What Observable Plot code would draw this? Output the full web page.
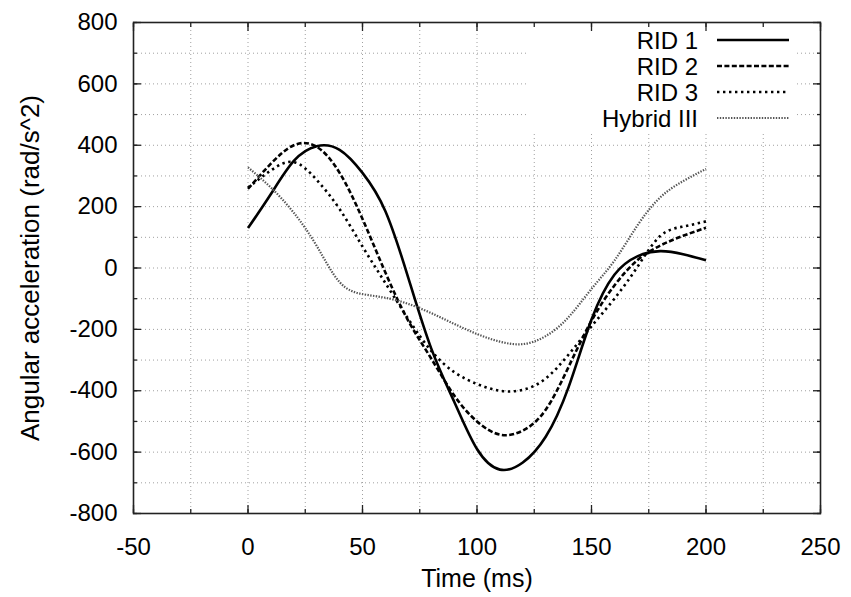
<!DOCTYPE html>
<html>
<head>
<meta charset="utf-8">
<script src="https://cdn.jsdelivr.net/npm/d3@7"></script>
<script src="https://cdn.jsdelivr.net/npm/@observablehq/plot@0.6"></script>
<style>
  body { margin: 0; background: #fff; }
  #chart { width: 851px; height: 597px; }
</style>
</head>
<body>
<div id="chart"></div>
<script>
// ---- data ----
const seriesNames = ["RID 1", "RID 2", "RID 3", "Hybrid III"];
const time = [0, 10, 20, 30, 40, 50, 60, 70, 80, 90, 100, 110, 120, 130, 140, 150, 160, 170, 180, 190, 200];
const rid1 = [130, 241, 349, 397, 385, 310, 185, -32, -262, -435, -590, -657, -634, -550, -388, -168, -22, 38, 55, 45, 25];
const rid2 = [258, 340, 400, 395, 310, 160, -15, -172, -295, -415, -500, -543, -530, -462, -322, -172, -57, 25, 73, 105, 131];
const rid3 = [262, 318, 345, 287, 192, 70, -49, -166, -270, -339, -378, -400, -397, -360, -282, -190, -100, 3, 104, 135, 152];
const hybrid3 = [328, 262, 180, 72, -46, -85, -97, -117, -147, -182, -215, -240, -248, -222, -160, -68, 24, 138, 230, 283, 323];
const xTickLabels = [-50, 0, 50, 100, 150, 200, 250];
const yTickLabels = [-800, -600, -400, -200, 0, 200, 400, 600, 800];

const values = [rid1, rid2, rid3, hybrid3];
const styles = [
  {stroke: "#000", strokeWidth: 2.6, dash: null},
  {stroke: "#000", strokeWidth: 2.6, dash: "5,2.4"},
  {stroke: "#000", strokeWidth: 2.6, dash: "2.4,3.6"},
  {stroke: "#555", strokeWidth: 2.2, dash: "1.4,1.4"}
];

const table = seriesNames.flatMap((name, i) => time.map((t, j) => ({name, t, v: values[i][j]})));

const xMinor = d3.range(-50, 251, 25);
const yMinor = d3.range(-800, 801, 100);
const font = "'Liberation Sans', Arial, Helvetica, sans-serif";
const fs = 24;

const lines = seriesNames.map((name, i) => Plot.line(table.filter(d => d.name === name), {
  x: "t", y: "v", curve: "natural",
  stroke: styles[i].stroke, strokeWidth: styles[i].strokeWidth,
  strokeDasharray: styles[i].dash, strokeLinecap: "butt", strokeLinejoin: "round"
}));

const tickOpts = {tickFormat: () => "", stroke: "#222", strokeWidth: 1.3, label: null};

const svg = Plot.plot({
  width: 851, height: 597,
  marginLeft: 133, marginRight: 31, marginTop: 22, marginBottom: 84,
  style: {fontFamily: font, fontSize: fs + "px", background: "#fff", color: "#000", overflow: "visible"},
  x: {domain: [-50, 250]},
  y: {domain: [-800, 800]},
  marks: [
    Plot.gridX(xMinor.slice(1, -1), {stroke: "#a0a0a0", strokeOpacity: 1, strokeWidth: 1, strokeDasharray: "1,3"}),
    Plot.gridY(yMinor.slice(1, -1), {stroke: "#a0a0a0", strokeOpacity: 1, strokeWidth: 1, strokeDasharray: "1,3"}),
    ...lines,
    Plot.frame({stroke: "#222", strokeWidth: 1.6}),
    // inward ticks: minor
    Plot.axisX(xMinor, {anchor: "bottom", tickSize: -4, ...tickOpts}),
    Plot.axisX(xMinor, {anchor: "top", tickSize: -4, ...tickOpts}),
    Plot.axisY(yMinor, {anchor: "left", tickSize: -4, ...tickOpts}),
    Plot.axisY(yMinor, {anchor: "right", tickSize: -4, ...tickOpts}),
    // inward ticks: major
    Plot.axisX(xTickLabels, {anchor: "bottom", tickSize: -8, ...tickOpts}),
    Plot.axisX(xTickLabels, {anchor: "top", tickSize: -8, ...tickOpts}),
    Plot.axisY(yTickLabels, {anchor: "left", tickSize: -8, ...tickOpts}),
    Plot.axisY(yTickLabels, {anchor: "right", tickSize: -8, ...tickOpts}),
    // tick labels
    Plot.axisX(xTickLabels, {anchor: "bottom", tickSize: 0, tickPadding: 24, tickFormat: d => String(d), fill: "#000", fontSize: fs, label: null}),
    Plot.axisY(yTickLabels, {anchor: "left", tickSize: 0, tickPadding: 16, tickFormat: d => String(d), fill: "#000", fontSize: fs, label: null}),
    // axis titles
    Plot.text(["Time (ms)"], {frameAnchor: "bottom", dy: 65, text: d => d, fontSize: 25, fill: "#000", textAnchor: "middle", lineAnchor: "middle"}),
    Plot.text(["Angular acceleration (rad/s^2)"], {frameAnchor: "left", dx: -103, rotate: -90, text: d => d, fontSize: 26, fill: "#000", textAnchor: "middle", lineAnchor: "middle"})
  ]
});

// legend (gnuplot-style key, top right inside plot, white box behind text)
const key = d3.create("svg:g").attr("aria-label", "legend");
key.append("rect").attr("x", 527).attr("y", 24).attr("width", 269).attr("height", 107).attr("fill", "#fff");
seriesNames.forEach((name, i) => {
  const cy = 40 + i * 26;
  key.append("text").attr("x", 698).attr("y", cy).attr("dy", "0.36em")
    .attr("text-anchor", "end").attr("font-family", font).attr("font-size", fs).attr("fill", "#000").text(name);
  key.append("line").attr("x1", 717).attr("x2", 789).attr("y1", cy).attr("y2", cy)
    .attr("stroke", styles[i].stroke).attr("stroke-width", styles[i].strokeWidth)
    .attr("stroke-dasharray", styles[i].dash).attr("stroke-linecap", "butt");
});
const frameEl = svg.querySelector('[aria-label="frame"]');
svg.insertBefore(key.node(), frameEl);

document.getElementById("chart").appendChild(svg);
</script>
</body>
</html>
